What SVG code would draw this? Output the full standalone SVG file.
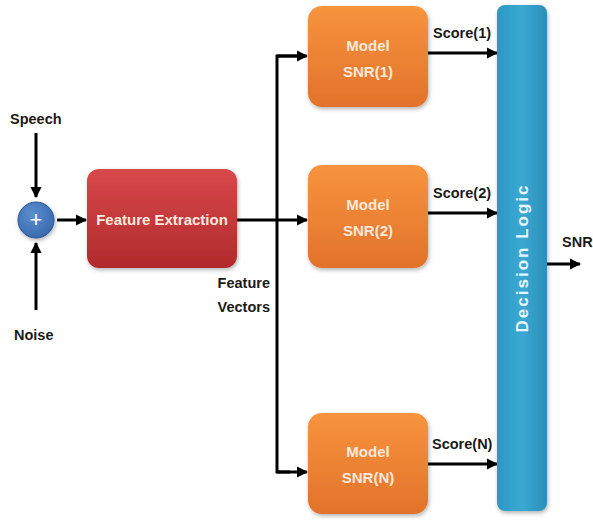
<svg xmlns="http://www.w3.org/2000/svg" width="593" height="522" viewBox="0 0 593 522">
  <defs>
    <linearGradient id="gRed" x1="0" y1="0" x2="0" y2="1">
      <stop offset="0" stop-color="#d8484a"/>
      <stop offset="1" stop-color="#b02a2c"/>
    </linearGradient>
    <linearGradient id="gOrange" x1="0" y1="0" x2="0" y2="1">
      <stop offset="0" stop-color="#f7943e"/>
      <stop offset="1" stop-color="#e2722a"/>
    </linearGradient>
    <linearGradient id="gBlue" x1="0" y1="0" x2="1" y2="0">
      <stop offset="0" stop-color="#2c98c4"/>
      <stop offset="0.5" stop-color="#3aa9d2"/>
      <stop offset="1" stop-color="#2a8fb8"/>
    </linearGradient>
    <radialGradient id="gSum" cx="0.4" cy="0.35" r="0.7">
      <stop offset="0" stop-color="#5b8fd0"/>
      <stop offset="1" stop-color="#3868ad"/>
    </radialGradient>
    <filter id="shadow" x="-20%" y="-20%" width="140%" height="140%">
      <feDropShadow dx="1" dy="2" stdDeviation="2" flood-color="#000" flood-opacity="0.3"/>
    </filter>
    <marker id="arrow" viewBox="0 0 10 10" refX="9" refY="5" markerWidth="3.8" markerHeight="3.8" orient="auto" markerUnits="strokeWidth">
      <path d="M0,0 L10,5 L0,10 z" fill="#000"/>
    </marker>
  </defs>
  <style>
    .lbl { font-family: "Liberation Sans", Arial, sans-serif; font-weight: bold; font-size: 14.5px; fill: #1a1a1a; }
    .in { font-family: "Liberation Sans", Arial, sans-serif; font-weight: bold; font-size: 15px; fill: #fbe9dc; text-anchor: middle; }
    .wire { fill: none; stroke: #000; stroke-width: 3; }
    .arr { fill: none; stroke: #000; stroke-width: 3; marker-end: url(#arrow); }
  </style>
  <rect width="593" height="522" fill="#fff"/>

  <!-- connectors -->
  <g id="connectors">
    <line class="arr" x1="36" y1="133" x2="36" y2="197"/>
    <line class="arr" x1="36" y1="310" x2="36" y2="243"/>
    <line class="arr" x1="57" y1="220" x2="86" y2="220"/>
    <line class="arr" x1="237" y1="220" x2="307" y2="220"/>
    <polyline class="wire" points="305,56 277,56 277,472 290,472"/>
    <line class="arr" x1="277" y1="56" x2="307" y2="56"/>
    <line class="arr" x1="277" y1="472" x2="307" y2="472"/>
    <line class="arr" x1="428" y1="53" x2="497" y2="53"/>
    <line class="arr" x1="428" y1="213" x2="497" y2="213"/>
    <line class="arr" x1="428" y1="464" x2="497" y2="464"/>
    <line class="arr" x1="547" y1="264" x2="580" y2="264"/>
  </g>

  <!-- free labels -->
  <text class="lbl" x="10" y="124">Speech</text>
  <text class="lbl" x="14" y="340">Noise</text>
  <text class="lbl" x="270" y="288" text-anchor="end">Feature</text>
  <text class="lbl" x="270" y="312" text-anchor="end">Vectors</text>
  <text class="lbl" x="433" y="38">Score(1)</text>
  <text class="lbl" x="433" y="198">Score(2)</text>
  <text class="lbl" x="432" y="449">Score(N)</text>
  <text class="lbl" x="562" y="247">SNR</text>

  <g id="sum">
    <circle cx="36" cy="220" r="18" fill="url(#gSum)" stroke="#2a5590" stroke-width="1" filter="url(#shadow)"/>
    <text x="36" y="227" text-anchor="middle" font-family="Liberation Sans, Arial, sans-serif" font-size="22" fill="#fff">+</text>
  </g>

  <g id="feature-extraction">
    <rect x="87" y="169" width="150" height="99" rx="12" fill="url(#gRed)" filter="url(#shadow)"/>
    <text class="in" x="162" y="225" fill="#fde6e6">Feature Extraction</text>
  </g>

  <g id="model-1">
    <rect x="308" y="6" width="120" height="101" rx="14" fill="url(#gOrange)" filter="url(#shadow)"/>
    <text class="in" x="368" y="51">Model</text>
    <text class="in" x="368" y="77">SNR(1)</text>
  </g>

  <g id="model-2">
    <rect x="308" y="165" width="120" height="103" rx="14" fill="url(#gOrange)" filter="url(#shadow)"/>
    <text class="in" x="368" y="210">Model</text>
    <text class="in" x="368" y="236">SNR(2)</text>
  </g>

  <g id="model-n">
    <rect x="308" y="413" width="120" height="101" rx="14" fill="url(#gOrange)" filter="url(#shadow)"/>
    <text class="in" x="368" y="457">Model</text>
    <text class="in" x="368" y="483">SNR(N)</text>
  </g>

  <g id="decision-logic">
    <rect x="497" y="5" width="50" height="506" rx="8" fill="url(#gBlue)" filter="url(#shadow)"/>
    <text x="0" y="0" transform="translate(528,258) rotate(-90)" text-anchor="middle" font-family="Liberation Sans, Arial, sans-serif" font-weight="bold" font-size="17" letter-spacing="2" fill="#e8f6fb">Decision  Logic</text>
  </g>
</svg>
